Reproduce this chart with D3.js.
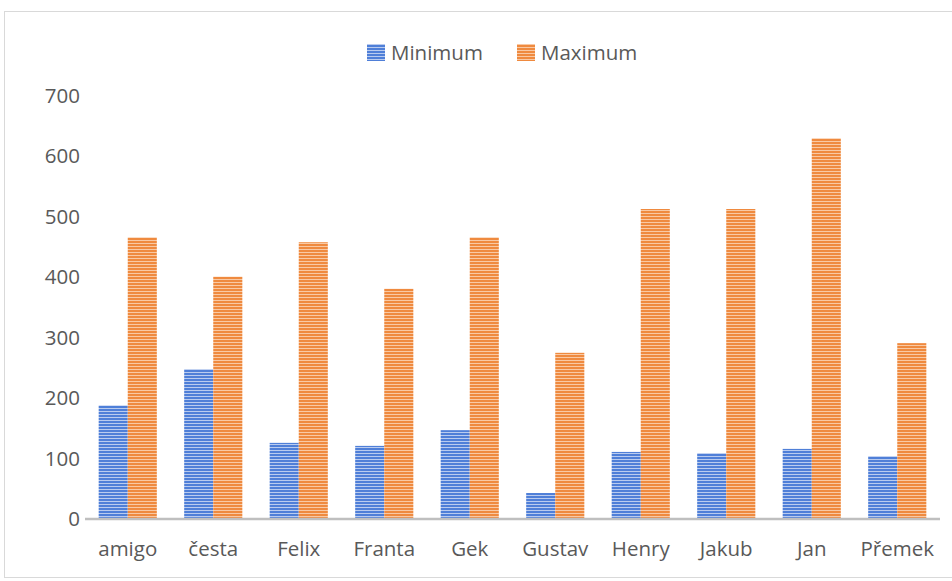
<!DOCTYPE html>
<html>
<head>
<meta charset="utf-8">
<script src="https://cdn.jsdelivr.net/npm/d3@7"></script>
<style>
  html, body { margin: 0; padding: 0; background: #fff; }
  svg { display: block; }
  text { font-family: "Open Sans", "Noto Sans", sans-serif; fill: #595959; }
</style>
</head>
<body>
<svg id="chart" width="952" height="581"></svg>
<script>
// Minimum / maximum per person
const categories = ["amigo", "česta", "Felix", "Franta", "Gek", "Gustav", "Henry", "Jakub", "Jan", "Přemek"];
const minimumValues = [188, 248, 126, 121, 147, 43, 111, 109, 116, 104];
const maximumValues = [466, 401, 458, 381, 466, 275, 513, 513, 630, 291];
const seriesNames = ["Minimum", "Maximum"];
const yTicks = [0, 100, 200, 300, 400, 500, 600, 700];

const svg = d3.select("#chart");
const W = 952, H = 581;
const margin = { top: 96, right: 12, bottom: 62, left: 85 };
const FONT = 20.5;

// Outer frame (runs past the right edge)
svg.append("rect")
  .attr("x", 4.5).attr("y", 11.5)
  .attr("width", W + 10).attr("height", H - 15)
  .attr("fill", "#fff").attr("stroke", "#d9d9d9");

// Striped fills (narrow horizontal pattern)
const defs = svg.append("defs");
const patterns = [
  { id: "pat-min", light: "#b9cbef", dark: "#4f7fd8" },
  { id: "pat-max", light: "#f9c9a4", dark: "#ef8a3f" }
];
patterns.forEach(p => {
  const pat = defs.append("pattern")
    .attr("id", p.id).attr("patternUnits", "userSpaceOnUse")
    .attr("width", 6).attr("height", 3);
  pat.append("rect").attr("width", 6).attr("height", 3).attr("fill", p.light);
  pat.append("rect").attr("y", 1).attr("width", 6).attr("height", 2).attr("fill", p.dark);
});
const fills = ["url(#pat-min)", "url(#pat-max)"];

const x0 = d3.scaleBand()
  .domain(categories)
  .range([margin.left, W - margin.right])
  .paddingInner(0.32).paddingOuter(0.16);
const x1 = d3.scaleBand()
  .domain(seriesNames)
  .range([0, x0.bandwidth()]);
const y = d3.scaleLinear()
  .domain([0, 700])
  .range([H - margin.bottom, margin.top]);

// Bars
const rows = categories.map((c, i) => ({ cat: c, vals: [minimumValues[i], maximumValues[i]] }));
const groups = svg.append("g").selectAll("g")
  .data(rows).join("g")
  .attr("transform", d => `translate(${x0(d.cat)},0)`);
groups.selectAll("rect")
  .data(d => d.vals.map((v, k) => ({ v, k })))
  .join("rect")
  .attr("x", d => x1(seriesNames[d.k]))
  .attr("width", x1.bandwidth())
  .attr("y", d => y(d.v))
  .attr("height", d => y(0) - y(d.v))
  .attr("fill", d => fills[d.k]);

// Y axis labels (no line, no ticks)
const yAxis = svg.append("g")
  .attr("transform", `translate(${margin.left - 5},0)`)
  .call(d3.axisLeft(y).tickValues(yTicks).tickSize(0).tickPadding(0));
yAxis.select(".domain").remove();
yAxis.selectAll("text")
  .attr("font-size", FONT)
  .style("font-family", '"Open Sans", "Noto Sans", sans-serif')
  .attr("fill", "#595959");

// X axis baseline and category labels
const xAxis = svg.append("g")
  .attr("transform", `translate(0,${y(0)})`)
  .call(d3.axisBottom(x0).tickSize(0).tickPadding(22));
xAxis.select(".domain")
  .attr("stroke", "#bfbfbf").attr("stroke-width", 2.5)
  .attr("d", `M${margin.left},0H${W - margin.right}`);
xAxis.selectAll("text")
  .attr("font-size", FONT)
  .style("font-family", '"Open Sans", "Noto Sans", sans-serif')
  .attr("fill", "#595959");

// Legend
const legend = svg.append("g").attr("transform", "translate(367,44)");
const legendX = [0, 150];
seriesNames.forEach((name, k) => {
  const g = legend.append("g").attr("transform", `translate(${legendX[k]},0)`);
  g.append("rect").attr("width", 18).attr("height", 17).attr("fill", fills[k]);
  g.append("text").attr("x", 24).attr("y", 9).attr("dy", "0.35em")
    .attr("font-size", FONT).text(name);
});
</script>
</body>
</html>
